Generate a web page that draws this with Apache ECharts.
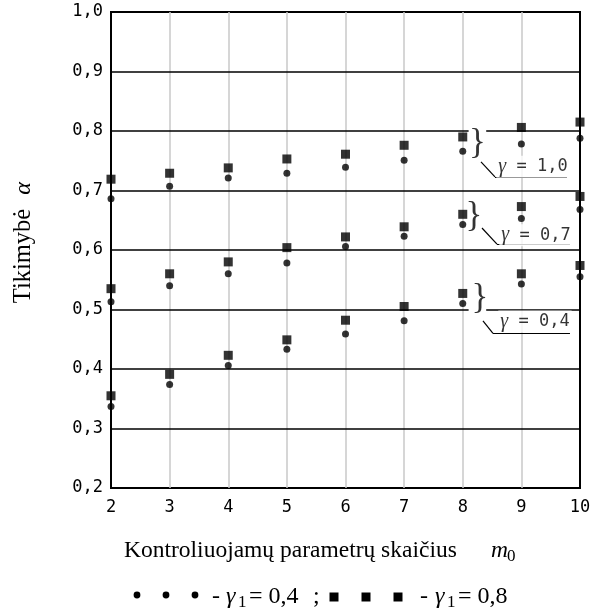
<!DOCTYPE html>
<html><head><meta charset="utf-8">
<script src="https://cdn.jsdelivr.net/npm/echarts@6/dist/echarts.min.js"></script>
<style>html,body{margin:0;padding:0;background:#fff}#c{width:594px;height:613px}</style>
</head><body><div id="c"></div>
<script>
// ---- data ----
const xValues = [2, 3, 4, 5, 6, 7, 8, 9, 10];
// gamma = 1.0
const g10_sq = [0.719, 0.729, 0.738, 0.753, 0.761, 0.776, 0.790, 0.806, 0.815];
const g10_ci = [0.686, 0.707, 0.721, 0.729, 0.739, 0.751, 0.766, 0.778, 0.788];
// gamma = 0.7
const g07_sq = [0.535, 0.560, 0.580, 0.604, 0.622, 0.639, 0.660, 0.673, 0.690];
const g07_ci = [0.513, 0.540, 0.560, 0.578, 0.606, 0.623, 0.643, 0.653, 0.668];
// gamma = 0.4
const g04_sq = [0.355, 0.391, 0.423, 0.449, 0.482, 0.505, 0.527, 0.560, 0.574];
const g04_ci = [0.337, 0.374, 0.406, 0.433, 0.459, 0.481, 0.510, 0.543, 0.555];

const xTickLabels = ['2', '3', '4', '5', '6', '7', '8', '9', '10'];
const yTickLabels = ['0,2', '0,3', '0,4', '0,5', '0,6', '0,7', '0,8', '0,9', '1,0'];
const hLineValues = [0.3, 0.4, 0.5, 0.6, 0.7, 0.8, 0.9];
const vLineValues = [3, 4, 5, 6, 7, 8, 9];
const gammaLabels = ['1,0', '0,7', '0,4'];

// ---- annotation layout (data coordinates) ----
const hLineGaps = { '0.8': [8.1, 8.4], '0.5': [8.1, 8.4] };
const bracePos = [[8.252, 0.779], [8.192, 0.656], [8.294, 0.518]];
const labelPos = [[9.198, 0.740], [9.249, 0.625], [9.232, 0.480]];
const leaderPts = [
  [[8.311, 0.748], [8.550, 0.723], [9.778, 0.723]],
  [[8.328, 0.637], [8.584, 0.610], [9.829, 0.610]],
  [[8.345, 0.481], [8.516, 0.460], [9.829, 0.460]]
];

const zip = (xs, ys) => xs.map((x, i) => [x, ys[i]]);
const seg = (a, b) => [{ coord: a }, { coord: b }];

const hSegs = [];
hLineValues.forEach(v => {
  const g = hLineGaps[String(v)];
  if (g) { hSegs.push(seg([2, v], [g[0], v])); hSegs.push(seg([g[1], v], [10, v])); }
  else hSegs.push(seg([2, v], [10, v]));
});
const vSegs = vLineValues.map(v => seg([v, 0.2], [v, 1.0]));
const leaderSegs = [];
leaderPts.forEach(p => { leaderSegs.push(seg(p[0], p[1])); leaderSegs.push(seg(p[1], p[2])); });

const MONO = 'DejaVu Sans Mono';
const SERIF = 'Liberation Serif';

const lineHelper = (name, segs, color, width, z) => ({
  name, type: 'scatter', data: [], z, silent: true,
  markLine: {
    silent: true, symbol: ['none', 'none'], animation: false,
    label: { show: false }, emphasis: { disabled: true },
    lineStyle: { color, width, type: 'solid' }, data: segs
  }
});

const markerSeries = (name, xs, ys, symbol, size) => ({
  name, type: 'scatter', data: zip(xs, ys), symbol, symbolSize: size, z: 5,
  itemStyle: { color: '#000' }, silent: true, clip: false
});

const annotData = [];
bracePos.forEach(p => annotData.push({
  value: p,
  label: { formatter: '}', fontFamily: SERIF, fontSize: 35, color: '#000' }
}));
labelPos.forEach((p, i) => annotData.push({
  value: p,
  label: {
    formatter: '{g|γ}{t| = ' + gammaLabels[i] + '}',
    backgroundColor: '#fff', padding: [1, 2],
    rich: {
      g: { fontFamily: SERIF, fontStyle: 'italic', fontSize: 20, color: '#000' },
      t: { fontFamily: MONO, fontSize: 17, color: '#000' }
    }
  }
}));

const option = {
  animation: false,
  backgroundColor: '#fff',
  grid: { left: 111, right: 14, top: 12, bottom: 125, show: true, borderColor: '#000', borderWidth: 2, backgroundColor: 'transparent' },
  xAxis: {
    type: 'value', min: 2, max: 10, interval: 1,
    axisLine: { show: false }, axisTick: { show: false }, splitLine: { show: false },
    axisLabel: { formatter: v => xTickLabels[Math.round(v - 2)], fontFamily: MONO, fontSize: 17, color: '#000', margin: 11 }
  },
  yAxis: {
    type: 'value', min: 0.2, max: 1.0, interval: 0.1,
    axisLine: { show: false }, axisTick: { show: false }, splitLine: { show: false },
    axisLabel: { formatter: v => yTickLabels[Math.round((v - 0.2) * 10)], fontFamily: MONO, fontSize: 17, color: '#000', margin: 8 }
  },
  series: [
    lineHelper('vgrid', vSegs, '#c8c8c8', 1.5, 1),
    lineHelper('hgrid', hSegs, '#000', 1.6, 2),
    markerSeries('γ=1,0 γ1=0,8', xValues, g10_sq, 'rect', 9),
    markerSeries('γ=1,0 γ1=0,4', xValues, g10_ci, 'circle', 7),
    markerSeries('γ=0,7 γ1=0,8', xValues, g07_sq, 'rect', 9),
    markerSeries('γ=0,7 γ1=0,4', xValues, g07_ci, 'circle', 7),
    markerSeries('γ=0,4 γ1=0,8', xValues, g04_sq, 'rect', 9),
    markerSeries('γ=0,4 γ1=0,4', xValues, g04_ci, 'circle', 7),
    lineHelper('leaders', leaderSegs, '#000', 1.2, 6),
    {
      name: 'annot', type: 'scatter', z: 7, silent: true, clip: false,
      symbol: 'rect', symbolSize: 1, itemStyle: { color: 'rgba(0,0,0,0)' },
      label: { show: true, position: 'inside' },
      data: annotData
    }
  ],
  graphic: [
    // y axis title
    { type: 'text', x: 24, y: 256, rotation: Math.PI / 2, style: { text: 'Tikimybė', font: '24.5px "Liberation Serif"', fill: '#000', align: 'center', verticalAlign: 'middle' } },
    { type: 'text', x: 24, y: 188.5, rotation: Math.PI / 2, style: { text: 'α', font: 'italic 24px "Liberation Serif"', fill: '#000', align: 'center', verticalAlign: 'middle' } },
    // x axis title
    { type: 'text', x: 124, y: 551, style: { text: 'Kontroliuojamų parametrų skaičius', font: '23.5px "Liberation Serif"', fill: '#000', align: 'left', verticalAlign: 'middle' } },
    { type: 'text', x: 491, y: 551, style: { text: 'm', font: 'italic 23.5px "Liberation Serif"', fill: '#000', align: 'left', verticalAlign: 'middle' } },
    { type: 'text', x: 507, y: 557, style: { text: '0', font: '17px "Liberation Serif"', fill: '#000', align: 'left', verticalAlign: 'middle' } },
    // legend
    { type: 'circle', shape: { cx: 137, cy: 595, r: 3.4 }, style: { fill: '#000' } },
    { type: 'circle', shape: { cx: 166, cy: 595, r: 3.4 }, style: { fill: '#000' } },
    { type: 'circle', shape: { cx: 195, cy: 595, r: 3.4 }, style: { fill: '#000' } },
    { type: 'text', x: 216, y: 597, style: { text: '-', font: '24px "Liberation Serif"', fill: '#000', align: 'center', verticalAlign: 'middle' } },
    { type: 'text', x: 226, y: 597, style: { text: 'γ', font: 'italic 24px "Liberation Serif"', fill: '#000', align: 'left', verticalAlign: 'middle' } },
    { type: 'text', x: 238, y: 603, style: { text: '1', font: '17px "Liberation Serif"', fill: '#000', align: 'left', verticalAlign: 'middle' } },
    { type: 'text', x: 249, y: 597, style: { text: '= 0,4', font: '24px "Liberation Serif"', fill: '#000', align: 'left', verticalAlign: 'middle' } },
    { type: 'text', x: 313, y: 597, style: { text: ';', font: '24px "Liberation Serif"', fill: '#000', align: 'left', verticalAlign: 'middle' } },
    { type: 'rect', shape: { x: 329.5, y: 592.5, width: 9, height: 9 }, style: { fill: '#000' } },
    { type: 'rect', shape: { x: 361.5, y: 592.5, width: 9, height: 9 }, style: { fill: '#000' } },
    { type: 'rect', shape: { x: 393.5, y: 592.5, width: 9, height: 9 }, style: { fill: '#000' } },
    { type: 'text', x: 424, y: 597, style: { text: '-', font: '24px "Liberation Serif"', fill: '#000', align: 'center', verticalAlign: 'middle' } },
    { type: 'text', x: 435, y: 597, style: { text: 'γ', font: 'italic 24px "Liberation Serif"', fill: '#000', align: 'left', verticalAlign: 'middle' } },
    { type: 'text', x: 447, y: 603, style: { text: '1', font: '17px "Liberation Serif"', fill: '#000', align: 'left', verticalAlign: 'middle' } },
    { type: 'text', x: 458, y: 597, style: { text: '= 0,8', font: '24px "Liberation Serif"', fill: '#000', align: 'left', verticalAlign: 'middle' } }
  ]
};
const chart = echarts.init(document.getElementById('c'));
chart.setOption(option);
</script>
</body></html>
